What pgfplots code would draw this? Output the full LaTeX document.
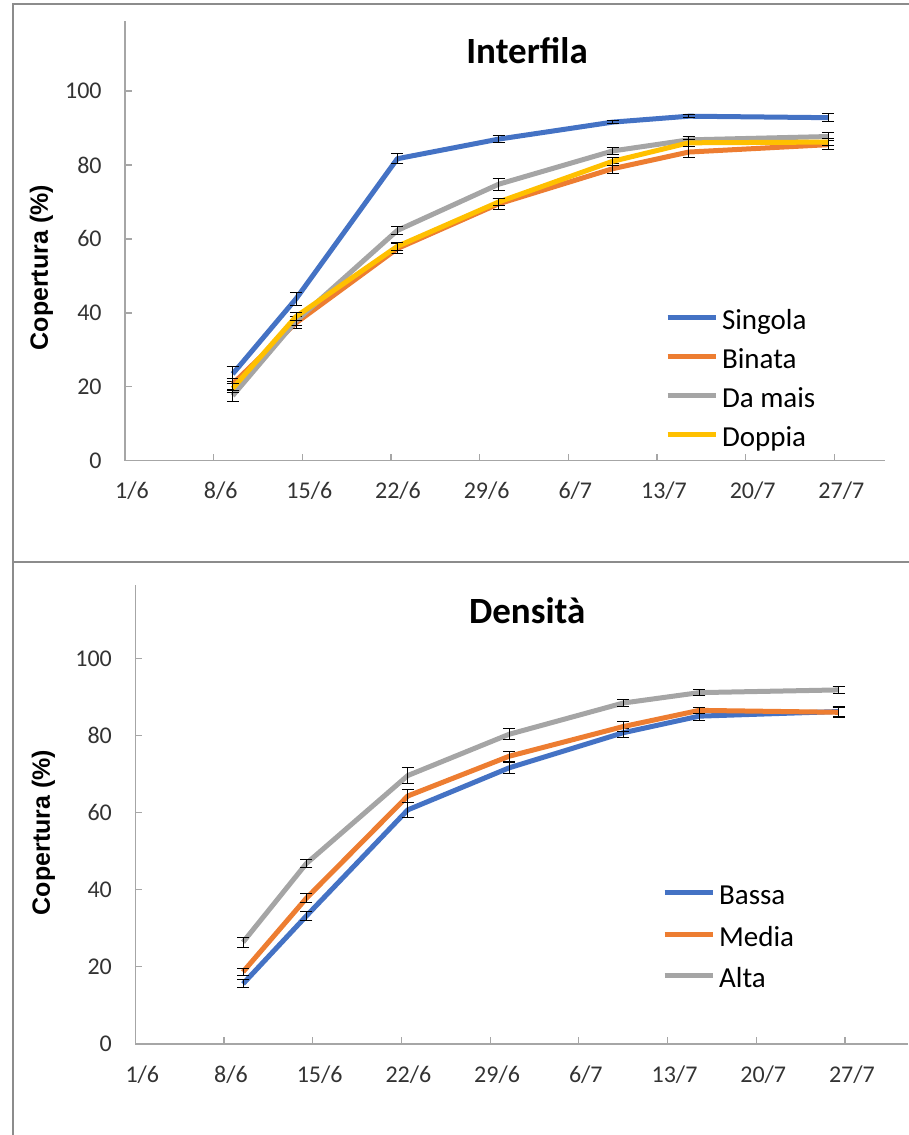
\documentclass[border=0pt]{standalone}
\usepackage{pgfplots}
\pgfplotsset{compat=1.18}
\usepackage{fontspec}
\setmainfont{Carlito}
\newfontfamily\labfont{Liberation Sans}
\definecolor{cblue}{HTML}{4472C4}
\definecolor{corange}{HTML}{ED7D31}
\definecolor{cgray}{HTML}{A5A5A5}
\definecolor{cyellow}{HTML}{FFC000}
\definecolor{axgray}{HTML}{A6A6A6}
\definecolor{framegray}{HTML}{8C8C8C}
\pgfplotsset{
  panel/.style={
    scale only axis,
    axis lines*=left,
    axis line style={draw=axgray, line width=0.6pt},
    tick style={draw=axgray, line width=0.6pt},
    major tick length=3.5pt,
    tick align=inside,
    xmin=0, ymin=0, ymax=119,
    xtick={0,7,...,56},
    xticklabels={1/6,8/6,15/6,22/6,29/6,6/7,13/7,20/7,27/7},
    ytick={0,20,...,100},
    tick label style={font=\fontsize{12}{14}\selectfont, text=black!80},
    yticklabel style={inner sep=0pt, xshift=-11.5pt},
    xticklabel style={inner sep=0pt, yshift=-10.5pt, xshift=3.5pt},
    /pgf/number format/assume math mode=true,
    ylabel={\labfont\bfseries Copertura (\%)},
    ylabel style={font=\fontsize{12.5}{14}\selectfont},
    every axis title shift=0pt,
    title style={font=\fontsize{18.5}{21}\selectfont\bfseries, anchor=base},
    legend cell align=left,
    legend style={draw=none, fill=none, anchor=north west, inner sep=0pt,
      font=\fontsize{14.5}{16}\selectfont,
      nodes={inner ysep=0pt, inner xsep=2pt, text height=9pt, text depth=3pt}},
    legend image code/.code={\draw[#1, line width=2.5pt, line cap=butt] (0pt,3pt) -- (24pt,3pt);},
    every axis plot/.append style={line width=2.5pt, line join=round, mark=none,
      error bars/y dir=both, error bars/y explicit,
      error bars/error bar style={black, line width=0.5pt},
      error bars/error mark options={black, rotate=90, mark size=3pt, line width=0.5pt}},
  }
}
\begin{document}
\begin{tikzpicture}
\useasboundingbox (0pt,0pt) rectangle (454.5pt,-567.5pt);
\draw[framegray, line width=0.6pt] (454.5pt,-2pt) -- (6.5pt,-2pt) -- (6.5pt,-567.5pt);
\draw[framegray, line width=0.6pt] (6.5pt,-281pt) -- (454.5pt,-281pt);

\begin{axis}[panel,
  at={(62.5pt,-230.4pt)}, anchor=south west,
  width=380pt, height=220pt, xmax=60,
  title={Interfila}, title style={at={(0.529,0.902)}},
  ylabel style={at={(rel axis cs:-0.11,0.439)}, anchor=center},
  legend style={at={(rel axis cs:0.71,0.34)}},
  legend style={/tikz/row sep=7.5pt},
]
\addplot[cblue] coordinates {(8.5,23.5) +- (0,2.0) (13.5,43.8) +- (0,1.8) (21.5,81.7) +- (0,1.3) (29.5,87.0) +- (0,1.0) (38.5,91.6) +- (0,0.4) (44.5,93.2) +- (0,0.4) (55.5,92.8) +- (0,1.0)};
\addlegendentry{Singola}
\addplot[corange] coordinates {(8.5,20.8) +- (0,1.5) (13.5,37.3) +- (0,1.6) (21.5,57.4) +- (0,1.4) (29.5,69.5) +- (0,1.4) (38.5,79.0) +- (0,1.4) (44.5,83.5) +- (0,1.4) (55.5,85.5) +- (0,1.2)};
\addlegendentry{Binata}
\addplot[cgray] coordinates {(8.5,17.6) +- (0,1.5) (13.5,37.8) +- (0,1.3) (21.5,62.3) +- (0,1.2) (29.5,74.8) +- (0,1.6) (38.5,83.8) +- (0,1.0) (44.5,86.8) +- (0,1.0) (55.5,87.7) +- (0,1.1)};
\addlegendentry{Da mais}
\addplot[cyellow] coordinates {(8.5,19.6) +- (0,1.2) (13.5,39.0) +- (0,1.0) (21.5,58.0) +- (0,1.0) (29.5,70.0) +- (0,1.0) (38.5,81.0) +- (0,1.0) (44.5,86.0) +- (0,1.0) (55.5,86.2) +- (0,1.0)};
\addlegendentry{Doppia}
\end{axis}

\begin{axis}[panel,
  at={(67.65pt,-522pt)}, anchor=south west,
  width=386.5pt, height=229.5pt, xmax=61,
  title={Densità}, title style={at={(0.507,0.917)}},
  ylabel style={at={(rel axis cs:-0.119,0.461)}, anchor=center},
  legend style={at={(rel axis cs:0.681,0.343)}},
  legend style={/tikz/row sep=8.75pt},
]
\addplot[cblue] coordinates {(8.5,15.6) +- (0,1.0) (13.5,33.2) +- (0,1.2) (21.5,60.7) +- (0,1.9) (29.5,71.6) +- (0,1.4) (38.5,80.7) +- (0,1.2) (44.5,85.0) +- (0,1.0) (55.5,86.2) +- (0,1.2)};
\addlegendentry{Bassa}
\addplot[corange] coordinates {(8.5,18.7) +- (0,1.0) (13.5,37.8) +- (0,1.2) (21.5,64.3) +- (0,1.8) (29.5,74.6) +- (0,1.3) (38.5,82.3) +- (0,1.4) (44.5,86.5) +- (0,0.7) (55.5,86.0) +- (0,1.3)};
\addlegendentry{Media}
\addplot[cgray] coordinates {(8.5,26.4) +- (0,1.3) (13.5,46.8) +- (0,1.1) (21.5,69.6) +- (0,2.0) (29.5,80.3) +- (0,1.4) (38.5,88.4) +- (0,0.8) (44.5,91.1) +- (0,0.7) (55.5,91.8) +- (0,1.0)};
\addlegendentry{Alta}
\end{axis}
\end{tikzpicture}
\end{document}
